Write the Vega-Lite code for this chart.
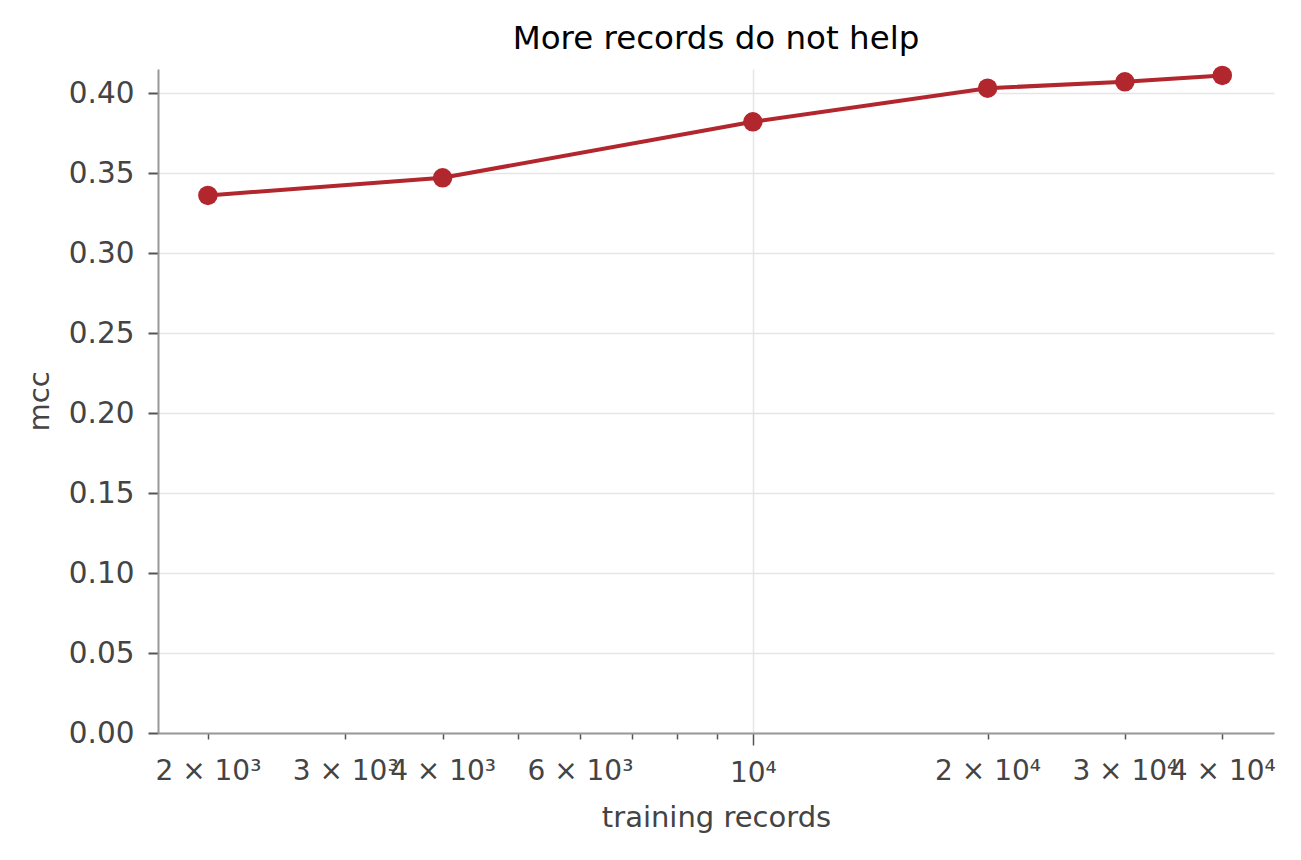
{
  "$schema": "https://vega.github.io/schema/vega-lite/v6.json",
  "autosize": "none",
  "width": 1116,
  "height": 664,
  "padding": {"left": 158, "top": 69, "right": 27, "bottom": 127},
  "background": "white",
  "title": {"text": "More records do not help", "font": "DejaVu Sans", "fontSize": 32.5, "fontWeight": "normal", "color": "black", "offset": 10},
  "config": {"view": {"stroke": null}, "font": "DejaVu Sans"},
  "data": {"values": [
    {"records": 2000, "mcc": 0.336},
    {"records": 4000, "mcc": 0.347},
    {"records": 10000, "mcc": 0.382},
    {"records": 20000, "mcc": 0.403},
    {"records": 30000, "mcc": 0.407},
    {"records": 40000, "mcc": 0.411}
  ]},
  "encoding": {
    "x": {"field": "records", "type": "quantitative",
      "scale": {"type": "log", "domain": [1726, 46600], "nice": false},
      "axis": {"title": "training records",
        "values": [2000, 3000, 4000, 5000, 6000, 7000, 8000, 9000, 10000, 20000, 30000, 40000],
        "labelExpr": "datum.value == 2000 ? '2 × 10³' : datum.value == 3000 ? '3 × 10³' : datum.value == 4000 ? '4 × 10³' : datum.value == 6000 ? '6 × 10³' : datum.value == 10000 ? '10⁴' : datum.value == 20000 ? '2 × 10⁴' : datum.value == 30000 ? '3 × 10⁴' : datum.value == 40000 ? '4 × 10⁴' : ''",
        "labelFontSize": 28, "labelColor": "#444444",
        "labelPadding": {"condition": {"test": "datum.value == 10000", "value": 14}, "value": 18},
        "titleFontSize": 29, "titleFontWeight": "normal", "titleColor": "#444444", "titlePadding": 16,
        "domainColor": "#999999", "domainWidth": 2,
        "tickColor": "#555555", "tickWidth": 1.5,
        "tickSize": {"condition": {"test": "datum.value == 10000", "value": 12}, "value": 6},
        "grid": true, "gridColor": "#e5e5e5", "gridWidth": 1.5,
        "gridOpacity": {"condition": {"test": "datum.value == 10000", "value": 1}, "value": 0},
        "labelFlush": false, "labelOverlap": false}
    },
    "y": {"field": "mcc", "type": "quantitative",
      "scale": {"domain": [0, 0.415], "nice": false, "zero": true},
      "axis": {"title": "mcc",
        "values": [0, 0.05, 0.1, 0.15, 0.2, 0.25, 0.3, 0.35, 0.4],
        "format": ".2f",
        "labelFontSize": 29.5, "labelColor": "#444444", "labelPadding": 14,
        "titleFontSize": 29, "titleFontWeight": "normal", "titleColor": "#444444", "titlePadding": 14,
        "domainColor": "#999999", "domainWidth": 2,
        "tickColor": "#555555", "tickWidth": 2, "tickSize": 10,
        "grid": true, "gridColor": "#e5e5e5", "gridWidth": 1.5}
    }
  },
  "layer": [
    {"mark": {"type": "line", "color": "#b2262d", "strokeWidth": 4}},
    {"mark": {"type": "point", "filled": true, "color": "#b2262d", "opacity": 1, "size": 380}}
  ]
}
